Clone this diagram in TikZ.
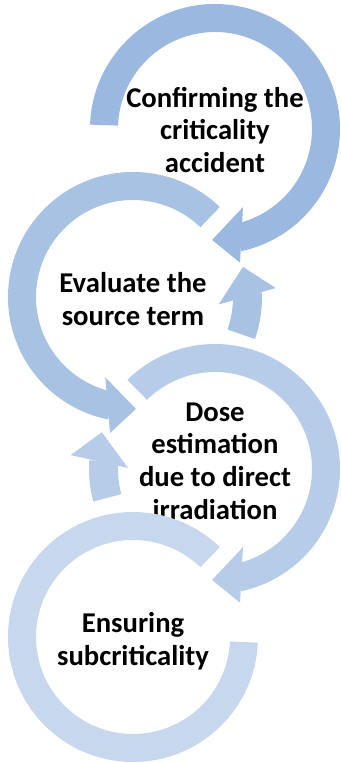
\documentclass[tikz,border=0pt]{standalone}
\usepackage{fontspec}
\setmainfont{Carlito}
\usepackage{tikz}

\definecolor{ringA}{RGB}{155,185,224}
\definecolor{ringB}{RGB}{168,194,228}
\definecolor{ringC}{RGB}{183,204,233}
\definecolor{ringD}{RGB}{199,216,238}

\tikzset{
  steptext/.style={align=center, text=black, inner sep=0pt,
    font=\bfseries\fontsize{21.5}{24.5}\selectfont}
}

\begin{document}
\begin{tikzpicture}[x=0.75pt, y=0.75pt]
	\useasboundingbox (0,0) rectangle (341,763);
	\coordinate (c1) at (215,634);
	\coordinate (c2) at (133,466);
	\coordinate (c3) at (215,294);
	\coordinate (c4) at (133,126);

	% confirming
	\fill[ringA] ([shift={(178:125)}]c1) arc[start angle=178, end angle=-78, radius=125]
		-- ([shift={(-78:97)}]c1) arc[start angle=-78, end angle=178, radius=97] -- cycle;
	\fill[ringA] ([shift={(-70.3:83)}]c1) -- ([shift={(-91.5:111)}]c1) -- ([shift={(-79.4:136)}]c1) -- cycle;
	\node[steptext] (confirm) at (215,633) {Confirming the\\criticality\\accident};

	% source term
	\fill[ringB] ([shift={(46:125)}]c2) arc[start angle=46, end angle=258.5, radius=125]
		-- ([shift={(258.5:97)}]c2) arc[start angle=258.5, end angle=46, radius=97] -- cycle;
	\fill[ringB] ([shift={(-109:85)}]c2) -- ([shift={(-88.5:112)}]c2) -- ([shift={(-99.6:138)}]c2) -- cycle;
	\fill[ringB] ([shift={(-19:129)}]c2) arc[start angle=-19, end angle=2, radius=129]
		-- ([shift={(2:100)}]c2) arc[start angle=2, end angle=-19, radius=100] -- cycle;
	\fill[ringB] ([shift={(-5:86)}]c2) -- ([shift={(15.3:114)}]c2) -- ([shift={(3.6:143)}]c2) -- cycle;
	\node[steptext] (source) at (133,464) {Evaluate the\\source term};

	% dose
	\fill[ringC] ([shift={(134.5:125)}]c3) arc[start angle=134.5, end angle=-78, radius=125]
		-- ([shift={(-78:97)}]c3) arc[start angle=-78, end angle=134.5, radius=97] -- cycle;
	\fill[ringC] ([shift={(-70.3:83)}]c3) -- ([shift={(-91.5:111)}]c3) -- ([shift={(-79.4:136)}]c3) -- cycle;
	\fill[ringC] ([shift={(195:126)}]c3) arc[start angle=195, end angle=176, radius=126]
		-- ([shift={(176:97)}]c3) arc[start angle=176, end angle=195, radius=97] -- cycle;
	\fill[ringC] ([shift={(179.3:87)}]c3) -- ([shift={(162:119)}]c3) -- ([shift={(174.5:145)}]c3) -- cycle;
	\node[steptext] (dose) at (215,302) {Dose\\estimation\\due to direct\\irradiation};

	% subcriticality
	\fill[ringD] ([shift={(-2.6:125)}]c4) arc[start angle=-2.6, end angle=-314, radius=125]
		-- ([shift={(-314:97)}]c4) arc[start angle=-314, end angle=-2.6, radius=97] -- cycle;
	\node[steptext] (subcrit) at (133,122) {Ensuring\\subcriticality};
\end{tikzpicture}
\end{document}
